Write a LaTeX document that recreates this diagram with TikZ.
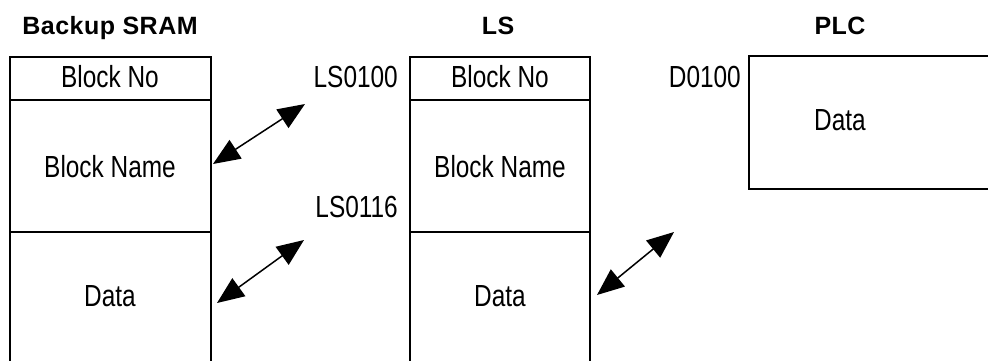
\documentclass[tikz,border=0pt]{standalone}
\usepackage{fontspec}
\setmainfont{Liberation Sans}
\newfontfamily\bodyfont[FakeStretch=0.8]{Liberation Sans}
\newfontfamily\headfont[LetterSpace=2]{Liberation Sans}
\usetikzlibrary{arrows.meta}
\begin{document}
\begin{tikzpicture}[x=1pt,y=-1pt,
  boxline/.style={line width=2pt,line cap=rect},
  plcline/.style={line width=1.6pt},
  title/.style={anchor=base,inner sep=0pt,font=\headfont\bfseries\fontsize{25}{30}\selectfont},
  cell/.style={anchor=base,inner sep=0pt,font=\bodyfont\fontsize{30.5}{36}\selectfont},
  addr/.style={anchor=base east,inner sep=0pt,font=\bodyfont\fontsize{30.5}{36}\selectfont},
  link/.style={line width=1.5pt,{Triangle[length=27pt,width=22pt]}-{Triangle[length=27pt,width=22pt]}}]
\useasboundingbox[fill=white] (0,0) rectangle (988,360);
% Backup SRAM box
\draw[boxline] (10,360) -- (10,57) -- (211,57) -- (211,360);
\draw[boxline] (10,100) -- (211,100);
\draw[boxline] (10,232) -- (211,232);
% LS box
\draw[boxline] (410,360) -- (410,57) -- (590,57) -- (590,360);
\draw[boxline] (410,100) -- (590,100);
\draw[boxline] (410,232) -- (590,232);
% PLC box
\draw[plcline] (988,56) -- (749,56) -- (749,189) -- (988,189);
% titles
\node[title] (tsram) at (110,34) {Backup SRAM};
\node[title] (tls) at (498,34) {LS};
\node[title] (tplc) at (840,34) {PLC};
% cells
\node[cell] (sno) at (110,87) {Block No};
\node[cell] (sname) at (110,177) {Block Name};
\node[cell] (sdata) at (110,306) {Data};
\node[cell] (lno) at (500,87) {Block No};
\node[cell] (lname) at (500,177) {Block Name};
\node[cell] (ldata) at (500,306) {Data};
\node[cell] (pdata) at (840,130) {Data};
% addresses
\node[addr] (a100) at (398,87) {LS0100};
\node[addr] (a116) at (398,217) {LS0116};
\node[addr] (d100) at (741,87) {D0100};
% arrow ends
\coordinate (s1) at (213,164);
\coordinate (e1) at (305,104);
\coordinate (s2) at (217,303);
\coordinate (e2) at (304,240);
\coordinate (s3) at (597,295);
\coordinate (e3) at (674,232);
\draw[link] (s1) -- (e1);
\draw[link] (s2) -- (e2);
\draw[link] (s3) -- (e3);
\end{tikzpicture}
\end{document}
